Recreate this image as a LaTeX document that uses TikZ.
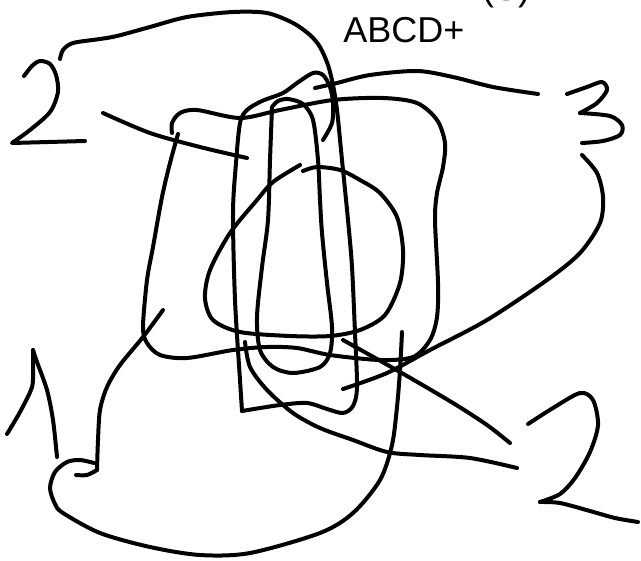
\documentclass[tikz,border=0pt]{standalone}
\usepackage{fontspec}
\setmainfont{Liberation Sans}
\begin{document}
\begin{tikzpicture}[x=0.75pt,y=-0.75pt,
  ink/.style={line width=3pt,line cap=round,line join=round},
  lbl/.style={inner sep=0pt,font=\fontsize{27pt}{32pt}\selectfont}]
\useasboundingbox (0,0) rectangle (641,560);
\begin{scope}
\clip (0,0) rectangle (641,560);
\node[lbl,anchor=base] (cut) at (506,1) {(S)};
\end{scope}
\node[lbl,anchor=base west] (abcd) at (343,43) {ABCD+};
% A: top arc and tall rectangle
\draw[ink] plot[smooth] coordinates {(60,59) (63,50) (73,43) (100,39) (117,36) (150,27) (187,17) (233,12) (267,13) (293,23) (310,35) (320,47) (328,65) (333,85) (337,110) (342,160) (348,220) (352,267) (355,333) (357,387) (353,406) (343,413) (327,409) (307,403) (280,405) (242,411)};
\draw[ink] plot[smooth] coordinates {(242,411) (240,380) (235,300) (233,213) (236,163) (240,123) (247,110) (262,101) (283,93) (297,83) (313,73) (323,75) (330,87) (333,103) (332,123) (323,140)};
% B: digit 2 top-left
\draw[ink] plot[smooth] coordinates {(24,76) (32,66) (40,61) (50,64) (56,75) (58,92) (50,112) (30,130) (12,143)} -- (85,141);
% C
\draw[ink] plot[smooth] coordinates {(103,113) (150,133) (200,147) (247,158)};
% D
\draw[ink] plot[smooth] coordinates {(315,88) (337,83) (370,75) (417,71) (453,77) (493,87) (538,94)};
% E: digit 3
\draw[ink] plot[smooth] coordinates {(567,94) (587,87) (602,82) (607,90) (597,103) (580,113)};
\draw[ink] plot[smooth] coordinates {(580,113) (610,116) (622,125) (620,135) (603,141) (582,143)};
% F
\draw[ink] plot[smooth] coordinates {(582,155) (597,173) (603,197) (600,223) (580,253) (547,280) (487,320) (430,350) (387,373) (343,389)};
% G: rounded frame
\draw[ink] plot[smooth] coordinates {(178,134) (170,163) (162,197) (153,247) (147,280) (143,327) (147,343) (160,355) (187,358) (233,350) (267,347) (297,348) (330,355) (380,360) (413,357) (430,340) (437,317) (438,283) (435,220) (437,193) (443,167) (445,143) (437,120) (417,103) (383,98) (333,100) (280,110) (240,118) (197,110) (180,113) (172,123) (172,133)};
% H: inner tall loop
\draw[ink] plot[smooth] coordinates {(272,108) (270,160) (268,220) (262,267) (257,317) (260,350) (273,367) (293,373) (320,367) (330,353) (332,327) (327,283) (322,233) (320,200) (318,160) (313,120) (303,104) (288,99) (278,101) (272,107)};
% I: oval
\draw[ink] plot[smooth] coordinates {(303,171) (317,167) (340,170) (360,180) (380,193) (397,217) (403,250) (400,283) (385,315) (360,330) (330,336) (290,336) (240,332) (213,320) (205,298) (210,270) (230,233) (257,200) (273,182) (300,165)};
% J: digit 1
\draw[ink] plot[smooth] coordinates {(7,434) (20,412) (32,387) (33,366) (33,350)};
\draw[ink] plot[smooth] coordinates {(33,350) (37,362) (47,390) (53,420) (57,457)};
% K: descending line with hook, and big loop
\draw[ink] plot[smooth] coordinates {(163,310) (143,337) (120,365) (107,387) (100,410) (98,440) (97,470)};
\draw[ink] plot[smooth] coordinates {(97,470) (87,475) (76,475)};
\draw[ink] plot[smooth] coordinates {(94,463) (80,460) (67,462) (55,472) (50,488) (55,504) (63,513) (100,533) (150,547) (200,555) (250,553) (320,533) (353,513) (380,480) (392,445) (397,407) (400,370) (402,332)};
% L
\draw[ink] plot[smooth] coordinates {(245,342) (250,367) (267,390) (293,413) (320,428) (353,440) (387,452) (420,455) (470,458) (517,468)};
% N
\draw[ink] plot[smooth] coordinates {(343,340) (400,372) (453,403) (487,425) (510,443)};
% O: digit 2 bottom-right
\draw[ink] plot[smooth] coordinates {(528,424) (553,408) (580,393) (593,400) (598,425) (590,452) (575,478) (560,494) (540,502)};
\draw[ink] plot[smooth] coordinates {(540,502) (560,503) (590,511) (615,518) (638,522)};
\end{tikzpicture}
\end{document}
